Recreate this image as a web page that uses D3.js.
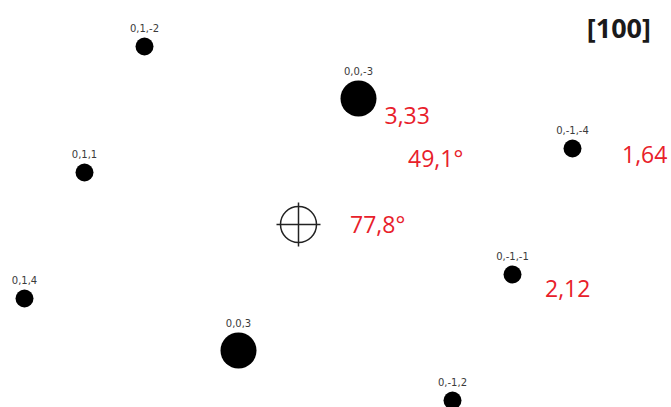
<!DOCTYPE html>
<html><head><meta charset="utf-8">
<script src="https://cdn.jsdelivr.net/npm/d3@7/dist/d3.min.js"></script>
<style>html,body{margin:0;padding:0;background:#fff;}svg{display:block;}</style>
</head><body>
<script>
// Diffraction spots (reciprocal-plane coordinates, arbitrary units, y up)
const spotLabels = ["0,1,-2","0,0,-3","0,1,1","0,-1,-4","0,1,4","0,0,3","0,-1,-1","0,-1,2"];
const spotX      = [-15.4, 6.0, -21.4, 27.4, -27.4, -6.0, 21.4, 15.4];
const spotY      = [17.8, 12.6, 5.2, 7.6, -7.4, -12.6, -5.0, -17.6];
const spotInt    = [1, 4, 1, 1, 1, 4, 1, 1];

// Measured values (d-spacings and angles), positions in the same units (baseline-left)
const noteTexts = ["3,33", "49,1°", "1,64", "77,8°", "2,12"];
const noteX     = [8.6, 10.95, 32.35, 5.15, 24.65];
const noteY     = [10.05, 5.75, 6.15, -0.85, -7.25];
const zoneAxis = "[100]";

const W = 671, H = 407;
const x = d3.scaleLinear().domain([-29.85, 37.25]).range([0, W]);
const y = d3.scaleLinear().domain([22.45, -18.25]).range([0, H]);
const r = d3.scaleSqrt().domain([0, 4]).range([0, 18]);

const svg = d3.select("body").append("svg").attr("width", W).attr("height", H);

const spots = spotLabels.map((l, i) => ({l, x: spotX[i], y: spotY[i], v: spotInt[i]}));

const g = svg.append("g");
g.selectAll("circle.spot").data(spots).join("circle")
  .attr("class", "spot")
  .attr("cx", d => x(d.x)).attr("cy", d => y(d.y)).attr("r", d => r(d.v))
  .attr("fill", "#000");

g.selectAll("text.lab").data(spots).join("text")
  .attr("class", "lab")
  .attr("x", d => x(d.x)).attr("y", d => y(d.y) - r(d.v) - 6)
  .attr("text-anchor", "middle")
  .attr("font-family", "DejaVu Sans, sans-serif")
  .attr("font-size", 10)
  .attr("fill", "#3a3a3a")
  .text(d => d.l);

// central beam crosshair
const cx = x(0), cy = y(0);
g.append("circle").attr("cx", cx).attr("cy", cy).attr("r", 18)
  .attr("fill", "none").attr("stroke", "#222").attr("stroke-width", 1.5);
g.append("line").attr("x1", cx - 22).attr("x2", cx + 22).attr("y1", cy).attr("y2", cy)
  .attr("stroke", "#222").attr("stroke-width", 1.5);
g.append("line").attr("x1", cx).attr("x2", cx).attr("y1", cy - 22).attr("y2", cy + 22)
  .attr("stroke", "#222").attr("stroke-width", 1.5);

// red annotations
const notes = noteTexts.map((t, i) => ({t, x: noteX[i], y: noteY[i]}));
g.selectAll("text.note").data(notes).join("text")
  .attr("class", "note")
  .attr("x", d => x(d.x)).attr("y", d => y(d.y))
  .attr("font-family", "Open Sans, Liberation Sans, sans-serif")
  .attr("font-size", 23)
  .attr("fill", "#e8202a")
  .text(d => d.t);

svg.append("text").attr("x", 651).attr("y", 38).attr("text-anchor", "end")
  .attr("font-family", "Open Sans, Liberation Sans, sans-serif")
  .attr("font-weight", "bold").attr("font-size", 27).attr("fill", "#1a1a1a")
  .text(zoneAxis);
</script>
</body></html>
